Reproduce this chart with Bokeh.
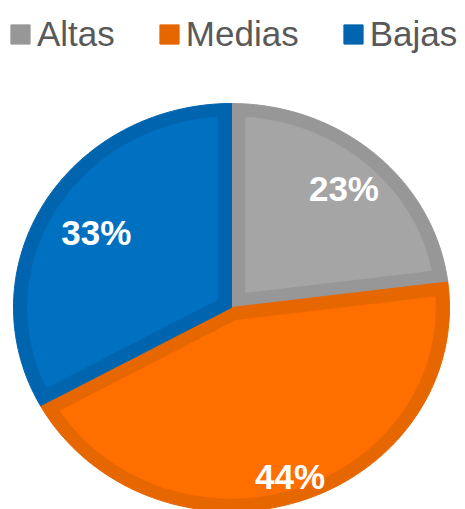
import numpy as np
from bokeh.plotting import figure
from bokeh.models import ColumnDataSource, Legend, LegendItem, Range1d
from bokeh.core.properties import value
from bokeh.embed import file_html
from bokeh.resources import INLINE

# ---- data ----
categories = ["Altas", "Medias", "Bajas"]
shares = [23, 44, 33]
labels = ["23%", "44%", "33%"]

# ---- styles / layout ----
fill_colors = ["#A5A5A5", "#FF6F00", "#0070C0"]
edge_colors = ["#979797", "#E66600", "#0065AE"]
label_radius = [0.78, 0.87, 0.72]

W, H = 465, 509
CX, CY = 231, 307          # pie centre, px from top-left of the figure
RX, RY = 218, 204          # pie radii in px
T = 14 / RX                # inner border thickness (unit radius)

x_range = Range1d(-CX / RX, (W - CX) / RX)
y_range = Range1d(-(H - CY) / RY, CY / RY)

p = figure(width=W, height=H, x_range=x_range, y_range=y_range,
           output_backend="svg", toolbar_location=None,
           x_axis_type=None, y_axis_type=None, min_border=0,
           outline_line_color=None, background_fill_color="white",
           border_fill_color="white")
p.grid.visible = False

vals = np.array(shares, dtype=float)
frac = vals / vals.sum()
cum = np.concatenate([[0.0], np.cumsum(frac)])
# clockwise from 12 o'clock
a_start = np.pi / 2 - cum[:-1] * 2 * np.pi
a_end = np.pi / 2 - cum[1:] * 2 * np.pi

outer_xs, outer_ys, inner_xs, inner_ys = [], [], [], []
lx, ly = [], []
for i in range(len(categories)):
    a1, a2 = a_end[i], a_start[i]       # a1 < a2 (counter-clockwise order)
    th = a2 - a1
    arc = np.linspace(a1, a2, 120)
    outer_xs.append(np.concatenate([[0.0], np.cos(arc)]).tolist())
    outer_ys.append(np.concatenate([[0.0], np.sin(arc)]).tolist())
    # inset shape
    mid = (a1 + a2) / 2
    apex = T / np.sin(th / 2)
    s = np.sqrt((1 - T) ** 2 - T ** 2)
    d = np.arctan2(T, s)
    arc_in = np.linspace(a1 + d, a2 - d, 120)
    inner_xs.append(np.concatenate([[apex * np.cos(mid)], (1 - T) * np.cos(arc_in)]).tolist())
    inner_ys.append(np.concatenate([[apex * np.sin(mid)], (1 - T) * np.sin(arc_in)]).tolist())
    lx.append(label_radius[i] * np.cos(mid))
    ly.append(label_radius[i] * np.sin(mid))

outer_src = ColumnDataSource(dict(xs=outer_xs, ys=outer_ys, c=edge_colors))
inner_src = ColumnDataSource(dict(xs=inner_xs, ys=inner_ys, c=fill_colors))
outer_r = p.patches("xs", "ys", source=outer_src, fill_color="c", line_color="c", line_width=1)
p.patches("xs", "ys", source=inner_src, fill_color="c", line_color="c", line_width=0.5)

lab_src = ColumnDataSource(dict(x=lx, y=ly, t=labels))
p.text("x", "y", text="t", source=lab_src, text_color="white",
       text_font=value("Liberation Sans"), text_font_style="bold",
       text_font_size=value("35px"), text_align="center", text_baseline="middle")

items = [LegendItem(label=cat, renderers=[outer_r], index=i)
         for i, cat in enumerate(categories)]

legend = Legend(items=items, orientation="horizontal", location="top_left",
                glyph_width=24, glyph_height=24, label_standoff=5, spacing=42,
                label_height=52, padding=3, margin=8, border_line_color=None,
                background_fill_alpha=0,
                label_text_font="Liberation Sans", label_text_font_size="35px",
                label_text_color="#595959")
p.add_layout(legend)

open("out.html", "w").write(file_html(p, INLINE))
